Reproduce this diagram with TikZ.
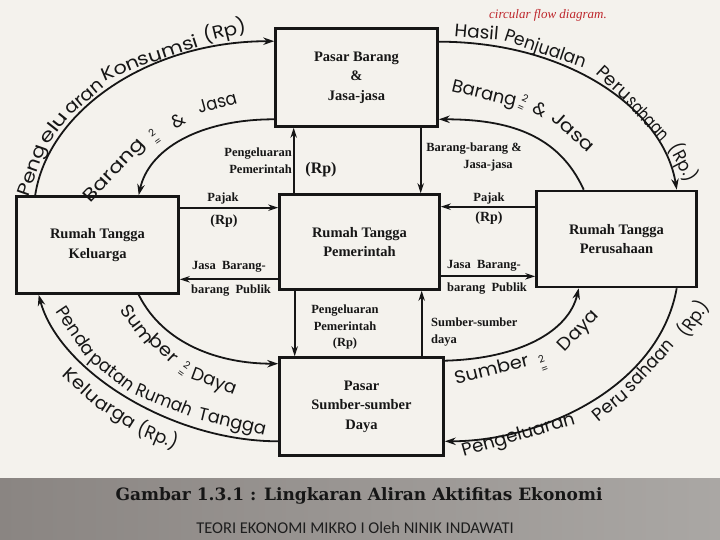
\documentclass[tikz,border=0pt]{standalone}
\usepackage{graphicx}
\usepackage{fontspec}
\setmainfont{Liberation Serif}
\newfontfamily\handfont{Poppins}
\newfontfamily\slabfont{DejaVu Serif}
\newfontfamily\footfont{Carlito}
\usetikzlibrary{arrows.meta,calc}
\newcommand{\hwfit}[2]{\resizebox{#1}{\height}{#2}}
\definecolor{paper}{RGB}{244,242,237}
\definecolor{ink}{RGB}{22,22,22}
\definecolor{footink}{RGB}{30,30,30}
\definecolor{scriptred}{RGB}{190,38,44}
\definecolor{bandL}{RGB}{138,133,130}
\definecolor{bandM}{RGB}{202,199,196}
\definecolor{bandR}{RGB}{170,167,164}
\tikzset{
  box/.style={draw=ink, line width=2.6pt, inner sep=0pt, align=center, text=ink,
    font=\bfseries\fontsize{14.5}{19.5}\selectfont},
  flow/.style={draw=ink, line width=1.8pt, -{Stealth[length=11pt,width=7.5pt]}},
  link/.style={draw=ink, line width=1.7pt, -{Stealth[length=10pt,width=6.5pt]}},
  lbl/.style={font=\bfseries\fontsize{12.5}{17}\selectfont, text=ink, inner sep=0pt},
  rp/.style={font=\bfseries\fontsize{14}{17}\selectfont, text=ink, inner sep=0pt},
  hw/.style={font=\handfont\fontsize{18}{18}\selectfont,
    text=ink, inner sep=0pt, text height=12.6pt, text depth=3.6pt},
  suptwo/.style={font=\handfont\fontsize{10}{10.5}\selectfont, text=ink, inner sep=0pt, align=center},
}
\begin{document}
\begin{tikzpicture}[x=1pt,y=1pt]
\useasboundingbox (0,0) rectangle (720,-540);
\fill[paper] (0,0) rectangle (720,-540);
\shade[left color=bandL, middle color=bandM, right color=bandR] (0,-478) rectangle (720,-540);

% boxes
\node[box, minimum width=162pt, minimum height=98pt] (pb) at (356.5,-77.5) {Pasar Barang\\\&\\Jasa-jasa};
\node[box, minimum width=162pt, minimum height=97pt] (kel) at (97.5,-245) {Rumah Tangga\\Keluarga};
\node[box, minimum width=160pt, minimum height=95pt] (pem) at (359.5,-242) {Rumah Tangga\\Pemerintah};
\node[box, minimum width=160pt, minimum height=96pt] (per) at (616.5,-239) {Rumah Tangga\\Perusahaan};
\node[box, minimum width=164pt, minimum height=98pt] (ps) at (361.5,-406.5) {Pasar\\Sumber-sumber\\Daya};

% arc end points
\coordinate (a1s) at ($(kel.north west)+(20,0)$);
\coordinate (a1e) at ($(pb.north west)+(0,-14)$);
\coordinate (a2s) at ($(pb.south west)+(0,8.5)$);
\coordinate (a2e) at ($(kel.north west)+(123.5,0)$);
\coordinate (a3s) at ($(pb.north east)+(0,-14.5)$);
\coordinate (a3e) at ($(per.north west)+(141.5,0)$);
\coordinate (a4s) at ($(per.north west)+(48.5,0)$);
\coordinate (a4e) at ($(pb.south east)+(0,8.5)$);
\coordinate (a5s) at ($(kel.south west)+(123.5,0)$);
\coordinate (a5e) at ($(ps.north west)+(0,-7.5)$);
\coordinate (a6s) at ($(ps.south west)+(0,15.5)$);
\coordinate (a6e) at ($(kel.south west)+(23.5,0)$);
\coordinate (a7s) at ($(ps.north east)+(0,-4.5)$);
\coordinate (a7e) at ($(per.south west)+(43.5,0)$);
\coordinate (a8s) at ($(per.south west)+(141.5,0)$);
\coordinate (a8e) at ($(ps.south east)+(0,15.5)$);

\draw[flow] (a1s) .. controls +(13,85) and +(-125,0) .. (a1e);
\draw[flow] (a2s) .. controls +(-75,0) and +(10,46) .. (a2e);
\draw[flow] (a3s) .. controls +(130,0) and +(-13,80) .. (a3e);
\draw[flow] (a4s) .. controls +(-25,55) and +(70,0) .. (a4e);
\draw[flow] (a5s) .. controls +(25,-50) and +(-58,0) .. (a5e);
\draw[flow] (a6s) .. controls +(-108,0) and +(20,-75) .. (a6e);
\draw[flow] (a7s) .. controls +(75,2) and +(-10,-43) .. (a7e);
\draw[flow] (a8s) .. controls +(-18,-100) and +(95,0) .. (a8e);

% straight links
\coordinate (p1) at ($(pem.north west)+(15.5,0)$);
\coordinate (q1) at ($(pb.south west)+(146.5,0)$);
\coordinate (k1) at ($(kel.north east)+(0,-12.5)$);
\coordinate (m1) at ($(pem.south west)+(0,11.5)$);
\coordinate (r1) at ($(per.north west)+(0,-17)$);
\coordinate (m2) at ($(pem.south east)+(0,14.5)$);
\coordinate (m3) at ($(pem.south west)+(16.5,0)$);
\coordinate (s1) at ($(ps.north west)+(143.5,0)$);
\draw[link] (p1) -- (p1 |- pb.south);
\draw[link] (q1) -- (q1 |- pem.north);
\draw[link] (k1) -- (k1 -| pem.west);
\draw[link] (m1) -- (m1 -| kel.east);
\draw[link] (r1) -- (r1 -| pem.east);
\draw[link] (m2) -- (m2 -| per.west);
\draw[link] (m3) -- (m3 |- ps.north);
\draw[link] (s1) -- (s1 |- pem.south);

% small labels
\node[lbl, align=right, anchor=east] (t1) at (292,-161) {Pengeluaran\\Pemerintah};
\node[rp, font=\bfseries\fontsize{16}{17}\selectfont] (t2) at (321,-170) {(Rp)};
\node[lbl, align=center] (t3) at (474,-157) {Barang-barang \&\\\hspace*{28pt}Jasa-jasa};
\node[lbl] (t4) at (223,-198) {Pajak};
\node[rp] (t5) at (224,-221) {(Rp)};
\node[lbl] (t6) at (229,-267) {Jasa\ \ Barang-};
\node[lbl] (t7) at (231,-291) {barang\ \ Publik};
\node[lbl] (t8) at (489,-198) {Pajak};
\node[rp] (t9) at (489,-218) {(Rp)};
\node[lbl] (t10) at (484,-266) {Jasa\ \ Barang-};
\node[lbl] (t11) at (487,-289) {barang\ \ Publik};
\node[lbl, align=center, font=\bfseries\fontsize{12.5}{16.5}\selectfont] (t12) at (345,-327) {Pengeluaran\\Pemerintah\\(Rp)};
\node[lbl, align=left, anchor=west] (t13) at (431,-332) {Sumber-sumber\\daya};

% hand-lettered labels along the arcs
% Pengeluaran Konsumsi (Rp)
\node[hw, rotate=70.7] (l1a) at (33,-171) {\hwfit{53pt}{Peng}};
\node[hw, rotate=51.7] (l1b) at (54.5,-128.5) {\hwfit{35pt}{elu}};
\node[hw, rotate=40.2] (l1c) at (85,-98) {\hwfit{45pt}{aran}};
\node[hw, rotate=22.9] (l1d) at (121,-69.5) {\hwfit{39pt}{Kon}};
\node[hw, rotate=18.1] (l1e) at (168.2,-52.4) {\hwfit{63pt}{sumsi}};
\node[hw, rotate=14] (l1f) at (225,-32.5) {\hwfit{43pt}{(Rp)}};
% Barang2 & Jasa (top left)
\node[hw, rotate=46.8] (l2a) at (114.5,-171) {\hwfit{80pt}{Barang}};
\node[suptwo, rotate=35] (l2c) at (155,-137) {2\\=};
\node[hw, rotate=30] (l2d) at (179,-122) {\&};
\node[hw, rotate=15.4] (l2e) at (217.5,-104) {\hwfit{40pt}{Jasa}};
% Hasil Penjualan Perusahaan (Rp.)
\node[hw, rotate=-4.9] (l3a) at (476.5,-33.5) {\hwfit{44pt}{Hasil}};
\node[hw, rotate=-18.9] (l3b) at (545,-50) {\hwfit{85pt}{Penjualan}};
\node[hw, rotate=-42.5] (l3d) at (613,-84) {\hwfit{40pt}{Peru}};
\node[hw, rotate=-47.6] (l3e) at (647,-119.5) {\hwfit{54pt}{sahaan}};
\node[hw, rotate=-62] (l3f) at (682,-163) {\hwfit{40pt}{(Rp.)}};
% Barang2 & Jasa (top right)
\node[hw, rotate=-13.5] (l4a) at (484,-94.5) {\hwfit{66pt}{Barang}};
\node[suptwo, rotate=-25] (l4c) at (523,-103) {2\\=};
\node[hw, rotate=-30] (l4d) at (540,-111) {\&};
\node[hw, rotate=-42] (l4e) at (572.5,-133) {\hwfit{51pt}{Jasa}};
% Sumber2 Daya (bottom left)
\node[hw, rotate=-52.8] (l5a) at (136.1,-325.3) {\hwfit{44pt}{Sum}};
\node[hw, rotate=-43] (l5b) at (163,-349.6) {\hwfit{33pt}{ber}};
\node[suptwo, rotate=-35] (l5c) at (184,-369) {2\\=};
\node[hw, rotate=-20.4] (l5d) at (213.5,-382.5) {\hwfit{47pt}{Daya}};
% Pendapatan Rumah Tangga / Keluarga (Rp.)
\node[hw, rotate=-56] (l6a) at (74.5,-332) {\hwfit{56pt}{Penda}};
\node[hw, rotate=-37.6] (l6b) at (111.5,-372.5) {\hwfit{52pt}{patan}};
\node[hw, rotate=-22] (l6d) at (163.5,-401.5) {\hwfit{60pt}{Rumah}};
\node[hw, rotate=-13.6] (l6e) at (232,-423) {\hwfit{69pt}{Tangga}};
\node[hw, rotate=-42.6] (l6f) at (80.5,-386.5) {\hwfit{42pt}{Kelu}};
\node[hw, rotate=-32.7] (l6g) at (115,-413.4) {\hwfit{45pt}{arga}};
\node[hw, rotate=-22.4] (l6h) at (157,-437) {\hwfit{42pt}{(Rp.)}};
% Sumber2 Daya (bottom right)
\node[hw, rotate=14] (l7a) at (492,-371) {\hwfit{76pt}{Sumber}};
\node[suptwo, rotate=20] (l7b) at (543,-364) {2\\=};
\node[hw, rotate=46] (l7c) at (579,-331.5) {\hwfit{50pt}{Daya}};
% Pengeluaran Perusahaan (Rp.)
\node[hw, rotate=16.2] (l8a) at (518.5,-436) {\hwfit{117pt}{Pengeluaran}};
\node[hw, rotate=39.8] (l8c) at (611,-406) {\hwfit{40pt}{Peru}};
\node[hw, rotate=47.2] (l8d) at (650,-366.5) {\hwfit{64pt}{sahaan}};
\node[hw, rotate=55] (l8e) at (695,-320) {\hwfit{40pt}{(Rp.)}};

% captions
\node[font=\itshape\fontsize{13}{13}\selectfont, text=scriptred] (cfd) at (548,-15) {circular flow diagram.};
\node[font=\slabfont\bfseries\fontsize{17}{17}\selectfont, text=ink] (cap) at (359,-496) {Gambar 1.3.1 : Lingkaran Aliran Aktifitas Ekonomi};
\node[font=\footfont\fontsize{16.5}{16.5}\selectfont, text=footink] (auth) at (355,-528) {TEORI EKONOMI MIKRO I Oleh NINIK INDAWATI};
\end{tikzpicture}
\end{document}
